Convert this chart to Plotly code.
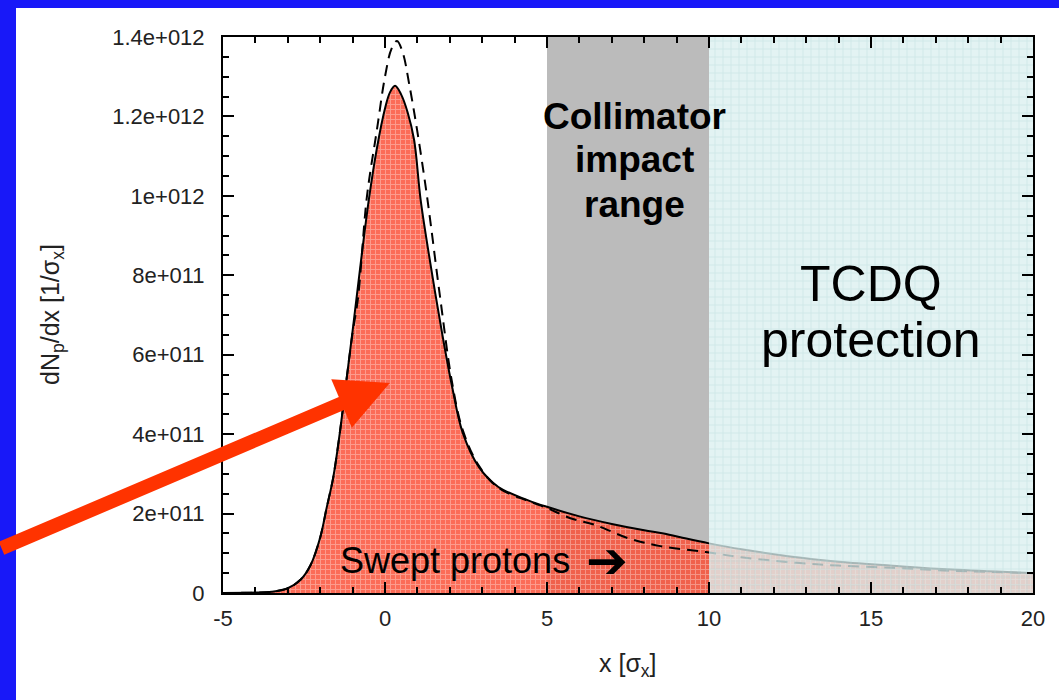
import plotly.graph_objects as go

# ---- data ----
x_swept = [-5, -4, -3.5, -3.0, -2.6, -2.3, -2.0, -1.8, -1.6, -1.4, -1.2, -1.0, -0.75, -0.5,
           -0.25, 0.0, 0.15, 0.31, 0.5, 0.7, 0.9, 1.1, 1.4, 1.75, 2.07, 2.4, 2.9, 3.5, 4.4,
           5.0, 6.0, 7.0, 8.0, 8.6, 9.3, 10, 11, 12.5, 14, 15.8, 17.5, 20]
y_swept = [0, 0.001e12, 0.003e12, 0.012e12, 0.034e12, 0.07e12, 0.14e12, 0.215e12, 0.29e12,
           0.40e12, 0.53e12, 0.66e12, 0.83e12, 0.99e12, 1.12e12, 1.22e12, 1.26e12, 1.277e12,
           1.255e12, 1.21e12, 1.14e12, 0.99e12, 0.83e12, 0.66e12, 0.52e12, 0.403e12,
           0.317e12, 0.267e12, 0.234e12, 0.217e12, 0.193e12, 0.174e12, 0.158e12, 0.150e12,
           0.137e12, 0.125e12, 0.110e12, 0.092e12, 0.079e12, 0.068e12, 0.059e12, 0.050e12]

x_ref = [-5, -4, -3.5, -3.0, -2.6, -2.3, -2.0, -1.8, -1.6, -1.4, -1.2, -1.0, -0.83, -0.56,
         -0.25, 0.0, 0.2, 0.37, 0.55, 0.75, 0.99, 1.3, 1.7, 2.07, 2.4, 2.9, 3.5, 4.4, 5.0,
         5.7, 6.5, 7.5, 8.5, 9.9, 11, 12.7, 14, 15.8, 17.5, 20]
y_ref = [0, 0.001e12, 0.003e12, 0.012e12, 0.034e12, 0.07e12, 0.14e12, 0.215e12, 0.29e12,
         0.40e12, 0.53e12, 0.655e12, 0.745e12, 0.997e12, 1.166e12, 1.30e12, 1.37e12,
         1.39e12, 1.36e12, 1.28e12, 1.166e12, 0.997e12, 0.745e12, 0.53e12, 0.41e12,
         0.32e12, 0.265e12, 0.232e12, 0.214e12, 0.189e12, 0.171e12, 0.138e12, 0.118e12,
         0.103e12, 0.090e12, 0.076e12, 0.069e12, 0.063e12, 0.056e12, 0.050e12]

collimator_range = [5, 10]
tcdq_range = [10, 20]

x_range = [-5, 20]
y_range = [0, 1.4e12]
y_tickvals = [0, 2e11, 4e11, 6e11, 8e11, 1e12, 1.2e12, 1.4e12]
y_ticktext = ["0", "2e+011", "4e+011", "6e+011", "8e+011", "1e+012", "1.2e+012", "1.4e+012"]
x_tickvals = [-5, 0, 5, 10, 15, 20]
x_ticktext = ["-5", "0", "5", "10", "15", "20"]

FONT = "Liberation Sans, Arial, Helvetica, sans-serif"

fig = go.Figure()

# red filled distribution
fig.add_trace(go.Scatter(
    x=x_swept, y=y_swept, mode="lines", fill="tozeroy",
    line=dict(color="black", width=2, shape="spline", smoothing=1.0),
    fillcolor="rgba(250,80,55,0.85)",
    fillpattern=dict(shape="+", bgcolor="rgba(250,80,55,0.84)",
                     fgcolor="rgba(255,255,255,0.65)", size=5, solidity=0.35),
    showlegend=False, hoverinfo="skip"))

# dashed reference curve
fig.add_trace(go.Scatter(
    x=x_ref, y=y_ref, mode="lines",
    line=dict(color="black", width=2, dash="11px,7px", shape="spline", smoothing=1.0),
    showlegend=False, hoverinfo="skip"))

# TCDQ protection region (overlay)
fig.add_trace(go.Scatter(
    x=[tcdq_range[0], tcdq_range[1], tcdq_range[1], tcdq_range[0], tcdq_range[0]],
    y=[y_range[0], y_range[0], y_range[1], y_range[1], y_range[0]],
    mode="lines", fill="toself", line=dict(width=0),
    fillcolor="rgba(216,238,238,0.76)",
    fillpattern=dict(shape="+", bgcolor="rgba(218,239,239,0.76)",
                     fgcolor="rgba(178,216,218,0.9)", size=8, solidity=0.18),
    showlegend=False, hoverinfo="skip"))

shapes = [
    # white slide panel
    dict(type="rect", xref="paper", yref="paper", x0=(16 - 223) / 810, x1=1.05,
         y0=-0.25, y1=(593 - 8) / 556, fillcolor="white", line=dict(width=0), layer="below"),
    # collimator impact range
    dict(type="rect", xref="x", yref="paper", x0=collimator_range[0], x1=collimator_range[1],
         y0=0, y1=1, fillcolor="#bbbbbb", line=dict(width=0), layer="below"),
]


def label(x, ypix, text, size, xref="x", xanchor="center", family=FONT, **kw):
    return dict(x=x, y=(593 - ypix) / 556, xref=xref, yref="paper", text=text,
                xanchor=xanchor, yanchor="middle", showarrow=False,
                font=dict(size=size, color=kw.pop("color", "black"), family=family), **kw)


annotations = [
    label(7.69, 116, "<b>Collimator</b>", 37),
    label(7.69, 160, "<b>impact</b>", 37),
    label(7.69, 204, "<b>range</b>", 37),
    label(15, 284, "TCDQ", 50),
    label(15, 340, "protection", 50),
    label(-1.45, 560, "Swept protons", 36, xanchor="left"),
    label(6.15, 561, "<b>\u2794</b>", 50, xanchor="left", family="DejaVu Sans"),
    # axis titles
    label(0.5, 665, "x [\u03c3<sub>x</sub>]", 25, xref="paper", color="#222"),
    label((52 - 223) / 810, 315, "dN<sub>p</sub>/dx [1/\u03c3<sub>x</sub>]", 25,
          xref="paper", color="#222", textangle=-90),
    # big red arrow
    dict(x=0.15, y=0.529e12, xref="x", yref="y", ax=-400, ay=166, text="",
         showarrow=True, arrowhead=2, arrowsize=0.75, arrowwidth=14, arrowcolor="#ff3300"),
]

axis_common = dict(showline=True, linecolor="black", linewidth=2, mirror="allticks",
                   ticks="inside", ticklen=11, tickwidth=2, tickcolor="black",
                   showgrid=False, zeroline=False,
                   tickfont=dict(size=22, color="#222", family=FONT))

fig.update_layout(
    width=1059, height=700,
    margin=dict(l=223, r=26, t=37, b=107),
    paper_bgcolor="#1818f8", plot_bgcolor="white",
    xaxis=dict(range=x_range, tickvals=x_tickvals, ticktext=x_ticktext, ticklabelstandoff=5,
               minor=dict(dtick=1, ticks="inside", ticklen=6, tickwidth=2, tickcolor="black"),
               **axis_common),
    yaxis=dict(range=y_range, tickvals=y_tickvals, ticktext=y_ticktext, ticklabelstandoff=12,
               minor=dict(dtick=5e10, ticks="inside", ticklen=6, tickwidth=2, tickcolor="black"),
               **axis_common),
    shapes=shapes, annotations=annotations,
)

fig.write_html("out.html")
